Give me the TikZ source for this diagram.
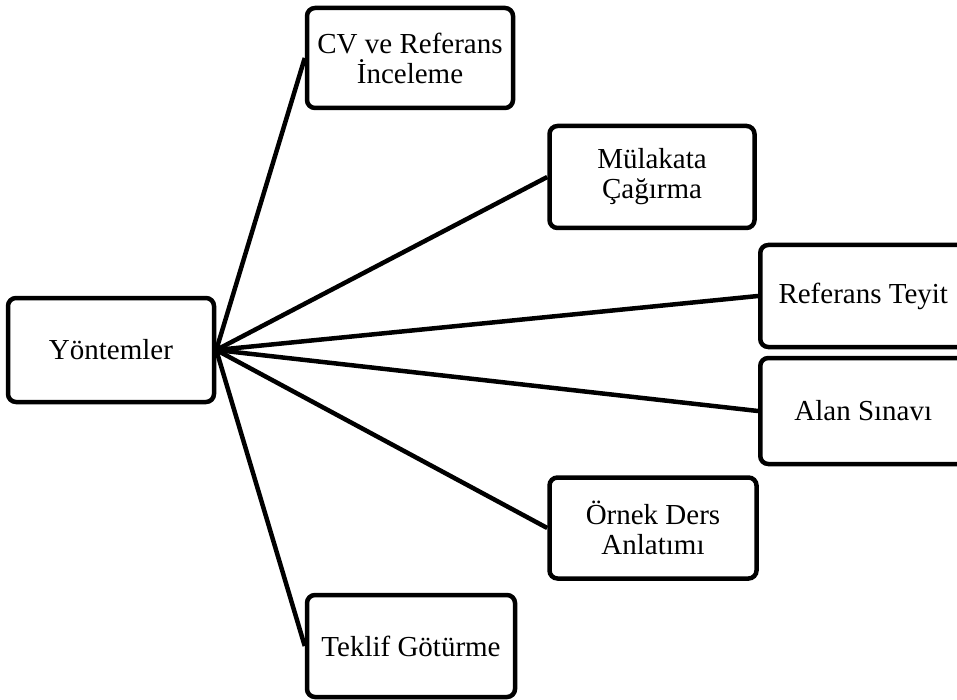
\documentclass[tikz,border=0pt]{standalone}
\usepackage{fontspec}
\setmainfont{Liberation Serif}
\usetikzlibrary{backgrounds}
\begin{document}
\begin{tikzpicture}[x=1pt,y=-1pt,
  box/.style={draw=black, line width=4.5pt, rounded corners=8pt, fill=white, align=center,
    font=\fontsize{29}{30}\selectfont, inner sep=0pt},
  link/.style={draw=black, line width=4.5pt}]
\useasboundingbox (0,0) rectangle (957,700);
\node[box, minimum width=206pt, minimum height=104pt] (y) at (111,350) {Yöntemler};
\node[box, minimum width=206pt, minimum height=100pt] (cv) at (410,58) {CV ve Referans\\İnceleme};
\node[box, minimum width=205pt, minimum height=102pt] (mu) at (652,177) {Mülakata\\Çağırma};
\node[box, minimum width=206pt, minimum height=102pt, anchor=west] (rt) at (758,296) {Referans Teyit};
\node[box, minimum width=206pt, minimum height=106pt, anchor=west] (as) at (758,411) {Alan Sınavı};
\node[box, minimum width=207pt, minimum height=101pt] (od) at (653,528) {Örnek Ders\\Anlatımı};
\node[box, minimum width=208pt, minimum height=102pt] (tg) at (411,646) {Teklif Götürme};
\begin{scope}[on background layer]
\foreach \t in {cv,mu,rt,as,od,tg}{
  \draw[link] (y.east) -- (\t.west);
}
\end{scope}
\end{tikzpicture}
\end{document}
